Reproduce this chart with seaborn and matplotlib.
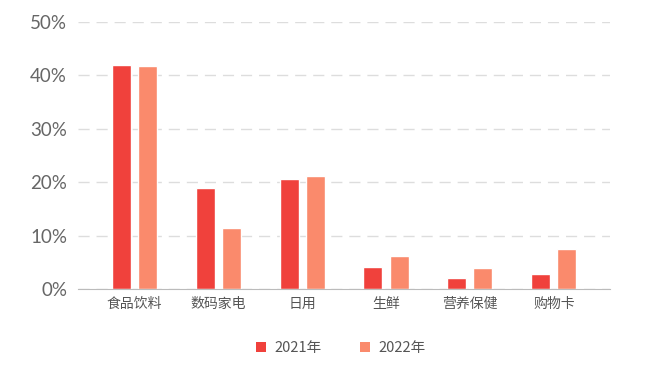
import pandas as pd
import seaborn as sns
import matplotlib.pyplot as plt
from matplotlib.patches import Patch

categories = ["食品饮料", "数码家电", "日用", "生鲜", "营养保健", "购物卡"]
share_2021 = [41.9, 18.9, 20.6, 4.1, 2.0, 2.7]
share_2022 = [41.8, 11.4, 21.2, 6.1, 3.9, 7.5]
years = ["2021年", "2022年"]
colors = ["#f0413c", "#fa8a6c"]

df = pd.DataFrame({
    "category": categories * 2,
    "share": share_2021 + share_2022,
    "year": [years[0]] * len(categories) + [years[1]] * len(categories),
})

sns.set_style("white")
plt.rcParams["font.family"] = ["Noto Sans CJK SC", "DejaVu Sans"]

fig = plt.figure(figsize=(6.68, 3.68), dpi=100)
ax = fig.add_axes([0.117, 0.215, 0.796, 0.725])

sns.barplot(data=df, x="category", y="share", hue="year", palette=colors,
            width=0.62, gap=0.27, saturation=1, ax=ax, legend=False)

ax.set_ylim(0, 50)
ax.set_xlim(-0.667, 5.667)
ax.set_yticks(range(0, 51, 10))
ax.set_yticklabels([f"{v}%" for v in range(0, 51, 10)], fontsize=13.5,
                   color="#666666", family=["Lato", "DejaVu Sans"])
ax.tick_params(axis="x", labelsize=10, labelcolor="#555555", length=0, pad=6)
ax.tick_params(axis="y", length=0, pad=8)
ax.set_xlabel("")
ax.set_ylabel("")

ax.yaxis.grid(True, color="#dddddd", linestyle=(0, (8, 5)), linewidth=1)
ax.set_axisbelow(True)
for side in ["top", "right", "left"]:
    ax.spines[side].set_visible(False)
ax.spines["bottom"].set_color("#bbbbbb")

handles = [Patch(facecolor=c, edgecolor="none") for c in colors]
fig.legend(handles, years, loc="center", bbox_to_anchor=(0.51, 0.055), ncol=2,
           frameon=False, fontsize=10.5, handlelength=0.7, handleheight=0.7,
           columnspacing=2.6, handletextpad=0.6, labelcolor="#555555")

plt.savefig("out.png", dpi=100)
